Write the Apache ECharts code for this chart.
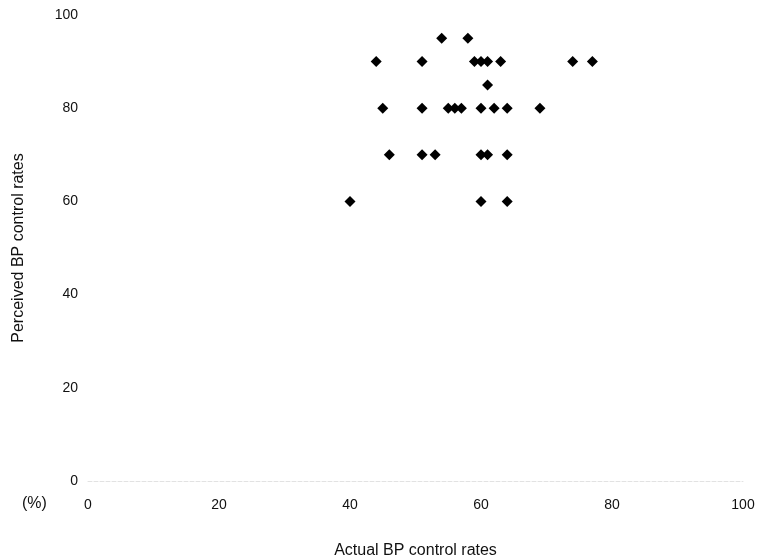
<!DOCTYPE html>
<html>
<head>
<meta charset="utf-8">
<script src="https://cdn.jsdelivr.net/npm/echarts@6/dist/echarts.min.js"></script>
<style>
    html, body { margin: 0; padding: 0; background: #fff; }
    #chart { width: 765px; height: 560px; }
</style>
</head>
<body>
<div id="chart"></div>
<script>
    // actual vs perceived BP control rates (%)
    const actualRates = [54, 58,
        44, 51, 59, 60, 61, 63, 74, 77,
        61,
        45, 51, 55, 56, 57, 60, 62, 64, 69,
        46, 51, 53, 60, 61, 64,
        40, 60, 64];
    const perceivedRates = [95, 95,
        90, 90, 90, 90, 90, 90, 90, 90,
        85,
        80, 80, 80, 80, 80, 80, 80, 80, 80,
        70, 70, 70, 70, 70, 70,
        60, 60, 60];

    const points = actualRates.map((x, i) => [x, perceivedRates[i]]);
    const font = 'Liberation Sans, Arial, sans-serif';

    let myChart = echarts.init(document.getElementById('chart'));
    let option = {
        animation: false,
        backgroundColor: '#fff',
        grid: {left: 88, right: 22, top: 15, bottom: 79, outerBoundsMode: 'none', containLabel: false},
        xAxis: {
            type: 'value',
            min: 0, max: 100, interval: 20,
            name: 'Actual BP control rates',
            nameLocation: 'middle',
            nameGap: 62,
            nameTextStyle: {fontFamily: font, fontSize: 16, color: '#111'},
            axisLine: {show: true, lineStyle: {color: '#e2e2e2', width: 1, type: 'dashed'}},
            axisTick: {show: false},
            splitLine: {show: false},
            axisLabel: {margin: 17, fontFamily: font, fontSize: 14, color: '#111'}
        },
        yAxis: {
            type: 'value',
            min: 0, max: 100, interval: 20,
            name: 'Perceived BP control rates',
            nameLocation: 'middle',
            nameGap: 61,
            nameTextStyle: {fontFamily: font, fontSize: 16, color: '#111'},
            axisLine: {show: false},
            axisTick: {show: false},
            splitLine: {show: false},
            axisLabel: {margin: 10, fontFamily: font, fontSize: 14, color: '#111'}
        },
        graphic: [{
            type: 'text',
            left: 22, top: 496,
            style: {text: '(%)', font: '16px ' + font, fill: '#111'}
        }],
        series: [{
            type: 'scatter',
            data: points,
            symbol: 'diamond',
            symbolSize: 11,
            itemStyle: {color: '#000', opacity: 1}
        }]
    };
    myChart.setOption(option);
</script>
</body>
</html>
